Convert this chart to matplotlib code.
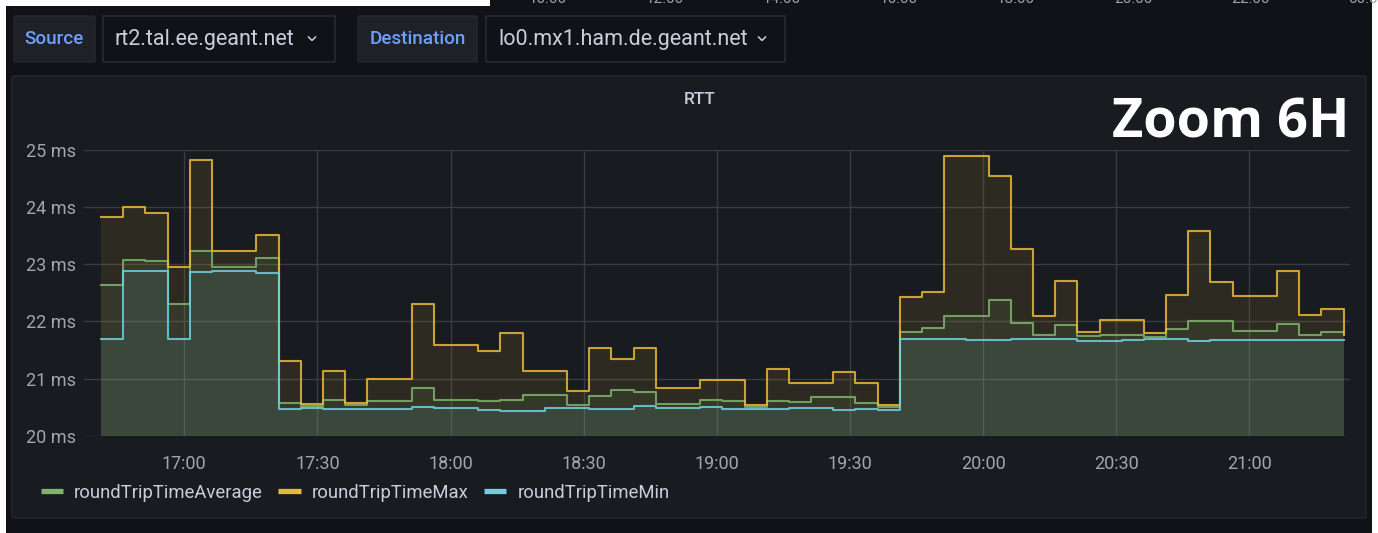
import matplotlib
matplotlib.use("Agg")
import matplotlib.pyplot as plt
import matplotlib.dates as mdates
from matplotlib.patches import FancyBboxPatch
from matplotlib.lines import Line2D
import pandas as pd

W, H = 1378, 533

# RTT samples, 5 minute buckets starting 16:41
start = "2021-03-10 16:41:15"
rtt_avg = [22.64, 23.07, 23.05, 22.31, 23.23, 22.95, 22.95, 23.11, 20.58, 20.52,
           20.63, 20.53, 20.60, 20.60, 20.83, 20.63, 20.63, 20.61, 20.63, 20.71,
           20.71, 20.54, 20.69, 20.80, 20.77, 20.56, 20.56, 20.62, 20.60, 20.50,
           20.60, 20.59, 20.68, 20.68, 20.57, 20.51, 21.82, 21.89, 22.10, 22.10,
           22.37, 21.97, 21.77, 21.93, 21.74, 21.76, 21.76, 21.73, 21.86, 22.00,
           22.00, 21.83, 21.83, 21.95, 21.76, 21.81, 21.80]
rtt_max = [23.83, 24.00, 23.89, 22.95, 24.83, 23.24, 23.24, 23.51, 21.30, 20.55,
           21.14, 20.57, 20.99, 20.99, 22.31, 21.59, 21.59, 21.49, 21.79, 21.13,
           21.13, 20.79, 21.53, 21.35, 21.54, 20.83, 20.83, 20.97, 20.98, 20.54,
           21.17, 20.93, 20.93, 21.11, 20.92, 20.53, 22.42, 22.52, 24.89, 24.89,
           24.54, 23.27, 22.09, 22.70, 21.81, 22.02, 22.02, 21.79, 22.47, 23.59,
           22.69, 22.44, 22.44, 22.89, 22.11, 22.21, 21.76]
rtt_min = [21.70, 22.89, 22.89, 21.69, 22.86, 22.88, 22.88, 22.85, 20.46, 20.48,
           20.47, 20.46, 20.46, 20.46, 20.51, 20.48, 20.48, 20.45, 20.44, 20.44,
           20.49, 20.49, 20.46, 20.46, 20.52, 20.48, 20.48, 20.50, 20.47, 20.46,
           20.47, 20.49, 20.49, 20.45, 20.47, 20.45, 21.69, 21.70, 21.69, 21.68,
           21.67, 21.70, 21.69, 21.69, 21.66, 21.66, 21.68, 21.69, 21.69, 21.66,
           21.67, 21.68, 21.68, 21.68, 21.67, 21.67, 21.67]
series_names = ["roundTripTimeAverage", "roundTripTimeMax", "roundTripTimeMin"]
series_colors = ["#7eb26d", "#eab839", "#6ed0e0"]
yticks = [20, 21, 22, 23, 24, 25]
top_labels = ["10:00", "12:00", "14:00", "16:00", "18:00", "20:00", "22:00", "00:00"]

times = pd.date_range(start, periods=len(rtt_avg), freq="5min")

PAGE = "#111217"
PANEL = "#181b1f"
TXT = "#ccccdc"
FONT = ["Roboto", "DejaVu Sans"]


def fx(x):
    return x / W


def fy(y):
    return 1 - y / H


def box(x0, y0, x1, y1, fc, ec="none", r=0, lw=1, z=-1):
    p = FancyBboxPatch((fx(x0), fy(y1)), fx(x1) - fx(x0), fy(y0) - fy(y1),
                       boxstyle="round,pad=0,rounding_size=%f" % (r / W),
                       transform=fig.transFigure, fc=fc, ec=ec, lw=lw, zorder=z)
    fig.patches.append(p)


def chevron(x, y):
    fig.lines.append(Line2D([fx(x - 3.5), fx(x), fx(x + 3.5)], [fy(y - 2), fy(y + 1.5), fy(y - 2)],
                            transform=fig.transFigure, color=TXT, lw=1.1))


fig = plt.figure(figsize=(W / 100, H / 100), dpi=100, facecolor="white")

# page background + white crop margins
box(6, 0, 1372, 533, PAGE, z=-3)
box(0, 0, 490, 6, "white", z=-2)
for i, lab in enumerate(top_labels):
    fig.text(fx(548 + i * 117), fy(-1), lab, color="#9fa1a6", fontsize=11,
             family=FONT, ha="center", va="center", zorder=-2.5)

# variable selectors
box(14, 16, 95, 62, "#1e2126", ec="#25282d", r=2)
fig.text(fx(54.5), fy(39), "Source", color="#6e9fff", fontsize=13.6, family=FONT,
         ha="center", va="center", fontweight="medium")
box(103, 16, 335, 62, PAGE, ec="#2c3036", r=2)
fig.text(fx(115), fy(39), "rt2.tal.ee.geant.net", color=TXT, fontsize=15.5,
         family=FONT, ha="left", va="center")
chevron(312, 39)
box(358, 16, 477, 62, "#1e2126", ec="#25282d", r=2)
fig.text(fx(418), fy(39), "Destination", color="#6e9fff", fontsize=13.6, family=FONT,
         ha="center", va="center", fontweight="medium")
box(486, 16, 785, 62, PAGE, ec="#2c3036", r=2)
fig.text(fx(498), fy(39), "lo0.mx1.ham.de.geant.net", color=TXT, fontsize=15.5,
         family=FONT, ha="left", va="center")
chevron(762, 39)

# panel
box(12, 76, 1366, 518, PANEL, ec="#24272c", r=3)
fig.text(fx(700), fy(100), "RTT", color=TXT, fontsize=12.5, family=FONT,
         ha="center", va="center", fontweight="medium")
fig.text(fx(1350), fy(124), "Zoom 6H", color="white", fontsize=39,
         family=["Open Sans", "DejaVu Sans"], fontweight="bold",
         ha="right", va="center", zorder=5)

ax = fig.add_axes([fx(84), fy(435.7), fx(1350) - fx(84), fy(150) - fy(435.7)])
ax.set_zorder(2)
ax.patch.set_alpha(0)

# fills (drawn under), then lines
for vals, col in zip([rtt_max, rtt_avg, rtt_min], [series_colors[1], series_colors[0], series_colors[2]]):
    ax.fill_between(times, 0, vals, step="post", color=col, alpha=0.1, lw=0, zorder=2)
handles = []
for vals, col, name in zip([rtt_avg, rtt_max, rtt_min], series_colors, series_names):
    ax.step(times, vals, where="post", color=col, lw=1.5, alpha=0.85, zorder=3)
    handles.append(Line2D([], [], color=col, lw=3.8, solid_capstyle="butt", label=name))

t0 = pd.Timestamp("2021-03-10 16:37:24")
t1 = pd.Timestamp("2021-03-10 21:22:42")
ax.set_xlim(t0, t1)
ax.set_ylim(20, 25)
ax.set_yticks(yticks)
ax.set_yticklabels(["%d ms" % v for v in yticks])
ax.xaxis.set_major_locator(mdates.MinuteLocator(byminute=[0, 30]))
ax.xaxis.set_major_formatter(mdates.DateFormatter("%H:%M"))
ax.grid(True, color="#393b40", lw=1, zorder=1)
for s in ax.spines.values():
    s.set_visible(False)
ax.tick_params(axis="both", length=0, colors="#a3a5aa", labelsize=13)
ax.tick_params(axis="x", pad=14)
ax.tick_params(axis="y", pad=6)
for lab in ax.get_xticklabels() + ax.get_yticklabels():
    lab.set_family(FONT)

leg = fig.legend(handles=handles, loc="center left", bbox_to_anchor=(fx(24), fy(492.5)),
                 ncol=3, frameon=False, handlelength=1.2, handletextpad=0.6,
                 columnspacing=0.85, labelcolor=TXT,
                 prop={"family": FONT, "size": 13.3})

fig.savefig("out.png", dpi=100, facecolor=fig.get_facecolor())
